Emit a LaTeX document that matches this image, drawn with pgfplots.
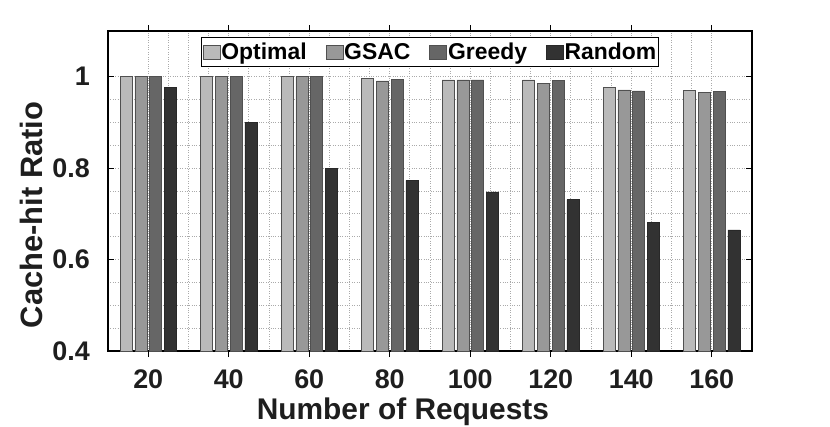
\documentclass[border=0pt]{standalone}
\usepackage{pgfplots}
\pgfplotsset{compat=1.18}
\usepackage{fontspec}
\setmainfont{Liberation Sans}
\definecolor{cO}{RGB}{186,186,186}
\definecolor{cG}{RGB}{152,152,152}
\definecolor{cGr}{RGB}{102,102,102}
\definecolor{cR}{RGB}{50,50,50}
\definecolor{edge}{RGB}{80,80,80}
\definecolor{gridc}{RGB}{170,170,170}
\definecolor{txt}{RGB}{30,30,30}
\begin{document}
\begin{tikzpicture}
\path[use as bounding box] (-108bp,-76bp) rectangle (722bp,351bp);
\begin{axis}[
  scale only axis,
  width=644bp, height=320bp,
  xmin=10, xmax=170,
  ymin=0.4, ymax=1.1,
  xtick={20,40,60,80,100,120,140,160},
  ytick={0.4,0.6,0.8,1},
  minor x tick num=3,
  minor y tick num=3,
  grid=both,
  major grid style={gridc, dotted, line width=0.9bp},
  minor grid style={gridc, dotted, line width=0.9bp},
  tick align=inside,
  major tick length=6bp,
  minor tick length=0bp,
  tick style={black, line width=1.2bp},
  axis line style={black, line width=1.3bp},
  /pgf/number format/assume math mode=true,
  ticklabel style={font=\fontsize{27}{30}\selectfont\bfseries, text=txt},
  xticklabel style={inner sep=0pt, anchor=north, yshift=-13bp},
  yticklabel style={inner sep=0pt, anchor=east, xshift=-18bp},
  xlabel={Number of Requests},
  ylabel={Cache-hit Ratio},
  xlabel style={font=\fontsize{30}{34}\selectfont\bfseries, text=txt, at={(axis description cs:0.458,-0.2156)}, anchor=base, inner sep=0pt},
  ylabel style={font=\fontsize{31}{35}\selectfont\bfseries, text=txt, at={(axis description cs:-0.1188,0.425)}, anchor=center, inner sep=0pt, rotate=0},
  ybar,
  bar width=2.98,
  legend columns=4,
  legend style={at={(axis description cs:0.5,1)}, anchor=north, yshift=-6bp,
    font=\fontsize{23}{26}\selectfont\bfseries, text=black,
    draw=black, line width=1.2bp, fill=white,
    inner xsep=1.5bp, inner ysep=2bp,
    nodes={inner xsep=1bp, inner ysep=3.5bp},
    /tikz/every even column/.append style={column sep=18bp}},
  legend image code/.code={\draw[#1, line width=0.6bp] (0bp,-7bp) rectangle (17bp,7bp);},
]
\addplot[fill=cO, draw=edge, line width=0.6bp, bar shift=-5.52] coordinates {
(20,1) (40,1) (60,1) (80,0.997) (100,0.993) (120,0.993) (140,0.977) (160,0.970)};
\addplot[fill=cG, draw=edge, line width=0.6bp, bar shift=-1.84] coordinates {
(20,1) (40,1) (60,1) (80,0.991) (100,0.993) (120,0.985) (140,0.971) (160,0.965)};
\addplot[fill=cGr, draw=edge, line width=0.6bp, bar shift=1.84] coordinates {
(20,1) (40,1) (60,1) (80,0.995) (100,0.993) (120,0.992) (140,0.969) (160,0.968)};
\addplot[fill=cR, draw=cR!80!black, line width=0.6bp, bar shift=5.52] coordinates {
(20,0.977) (40,0.900) (60,0.800) (80,0.773) (100,0.748) (120,0.731) (140,0.682) (160,0.665)};
\legend{Optimal,GSAC,Greedy,Random}
\end{axis}
\end{tikzpicture}
\end{document}
